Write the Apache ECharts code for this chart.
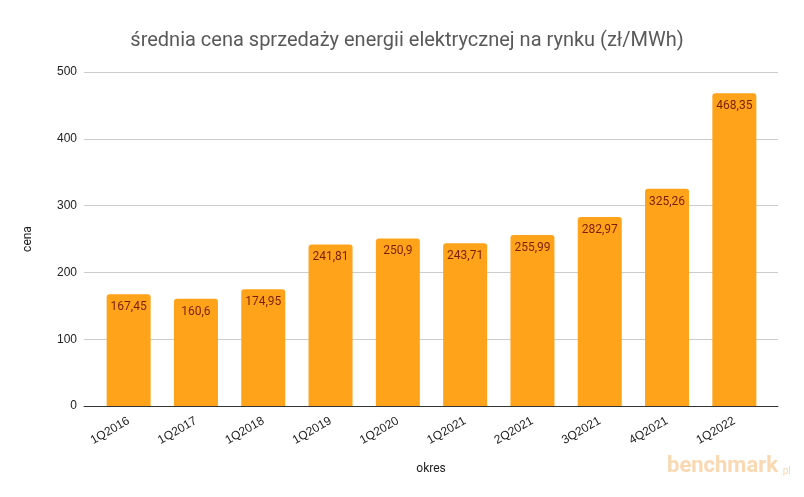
<!DOCTYPE html>
<html>
<head>
  <meta charset="utf-8" />
  <title>średnia cena sprzedaży energii</title>
  <script src="https://cdn.jsdelivr.net/npm/echarts@6/dist/echarts.min.js"></script>
  <style>
    html, body { margin: 0; padding: 0; background: #fff; }
    #main { width: 804px; height: 497px; }
  </style>
</head>
<body>
  <div id="main"></div>
  <script>
    var categories = ["1Q2016", "1Q2017", "1Q2018", "1Q2019", "1Q2020", "1Q2021", "2Q2021", "3Q2021", "4Q2021", "1Q2022"];
    var prices = [167.45, 160.6, 174.95, 241.81, 250.9, 243.71, 255.99, 282.97, 325.26, 468.35];
    var yTicks = [0, 100, 200, 300, 400, 500];

    var chart = echarts.init(document.getElementById("main"));
    // grid 0: osie i linie siatki, grid 1: słupki (węższy, jak w oryginale)
    chart.setOption({
      animation: false,
      textStyle: { fontFamily: "Roboto, Arial, sans-serif" },
      title: {
        text: "średnia cena sprzedaży energii elektrycznej na rynku (zł/MWh)",
        left: 402,
        top: 26,
        textAlign: "center",
        textStyle: { fontSize: 20, fontWeight: "normal", color: "#595959", fontFamily: "Roboto, Arial, sans-serif" }
      },
      grid: [
        { left: 84, right: 26, top: 72, bottom: 91 },
        { left: 95, right: 36, top: 72, bottom: 91 }
      ],
      xAxis: [{
        type: "category",
        gridIndex: 0,
        data: categories,
        name: "okres",
        nameLocation: "middle",
        nameGap: 57,
        nameTextStyle: { fontSize: 12, color: "#222" },
        axisLine: { lineStyle: { color: "#333", width: 1 } },
        axisTick: { show: false },
        axisLabel: { show: false }
      }, {
        type: "category",
        gridIndex: 1,
        data: categories,
        axisLine: { show: false },
        axisTick: { show: false },
        axisLabel: { rotate: 30, fontSize: 12, color: "#222", margin: 14, fontFamily: "Arial, 'Liberation Sans', sans-serif" }
      }],
      yAxis: [{
        type: "value",
        gridIndex: 0,
        min: yTicks[0],
        max: yTicks[yTicks.length - 1],
        interval: 100,
        name: "cena",
        nameLocation: "middle",
        nameGap: 50,
        nameTextStyle: { fontSize: 12, color: "#222" },
        axisLine: { show: false },
        axisTick: { show: false },
        axisLabel: { fontSize: 12, color: "#222", margin: 7, fontFamily: "Arial, 'Liberation Sans', sans-serif" },
        splitLine: { lineStyle: { color: "#cccccc" } }
      }, {
        type: "value",
        gridIndex: 1,
        min: yTicks[0],
        max: yTicks[yTicks.length - 1],
        interval: 100,
        show: false
      }],
      series: [{
        type: "bar",
        xAxisIndex: 1,
        yAxisIndex: 1,
        data: prices,
        barWidth: 44,
        itemStyle: { color: "#ffa31a", borderRadius: [3, 3, 0, 0] },
        label: {
          show: true,
          position: "insideTop",
          distance: 7,
          fontSize: 12,
          color: "#7a1f0a",
          formatter: function (p) { return String(p.value).replace(".", ","); }
        }
      }],
      graphic: [{
        type: "text",
        left: 667,
        top: 455,
        style: { text: "benchmark", fill: "#f9d8b2", font: "bold 22px Roboto, Arial, sans-serif" }
      }, {
        type: "text",
        left: 780,
        top: 466,
        style: { text: ".pl", fill: "#f9d8b2", font: "10px Roboto, Arial, sans-serif" }
      }]
    });
  </script>
</body>
</html>
